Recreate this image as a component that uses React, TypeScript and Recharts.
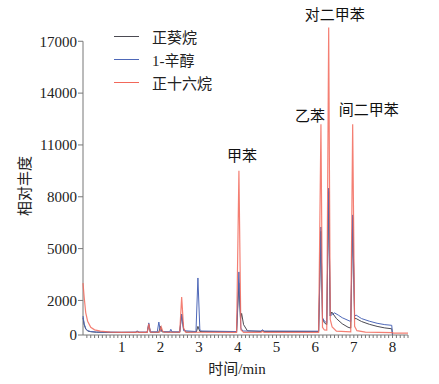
import { LineChart, Line, XAxis, YAxis, ReferenceLine, ReferenceDot } from "recharts"

// retention time (min), relative abundance
const decane: [number, number][] = [
  [0, 1000], [0.03, 600], [0.07, 350], [0.12, 230], [0.2, 190], [0.35, 160], [1.0, 150],
  [1.36, 150], [1.4, 200], [1.44, 150], [1.66, 150], [1.7, 600], [1.74, 160], [1.96, 160],
  [2.0, 500], [2.04, 180], [2.5, 160], [2.55, 1200], [2.6, 350], [2.66, 170], [2.93, 180],
  [2.97, 500], [3.02, 200], [3.97, 180], [4.03, 3000], [4.07, 900], [4.1, 1250], [4.15, 600],
  [4.25, 240], [4.6, 200], [4.64, 260], [4.68, 200], [6.09, 200], [6.15, 6000], [6.19, 950],
  [6.24, 700], [6.3, 600], [6.35, 8300], [6.39, 1100], [6.43, 1330], [6.55, 950], [6.7, 650],
  [6.85, 450], [6.92, 400], [6.97, 6800], [7.02, 950], [7.06, 950], [7.2, 780], [7.4, 620],
  [7.6, 500], [7.8, 410], [7.98, 360], [8.0, 0],
]

const octanol: [number, number][] = [
  [0, 1100], [0.03, 650], [0.07, 380], [0.12, 250], [0.2, 200], [0.35, 170], [1.0, 160],
  [1.35, 170], [1.4, 230], [1.45, 170], [1.66, 170], [1.7, 700], [1.74, 180], [1.92, 180],
  [1.96, 750], [2.0, 220], [2.04, 280], [2.08, 180], [2.24, 180], [2.27, 330], [2.3, 180],
  [2.5, 180], [2.55, 1200], [2.6, 250], [2.92, 200], [2.97, 3300], [3.02, 300], [3.07, 230],
  [3.97, 200], [4.03, 3650], [4.08, 400], [4.13, 230], [4.6, 230], [4.64, 300], [4.68, 230],
  [6.09, 220], [6.15, 6250], [6.19, 1000], [6.24, 800], [6.3, 700], [6.35, 8500], [6.39, 1100],
  [6.45, 1200], [6.5, 1280], [6.6, 1150], [6.7, 1000], [6.85, 850], [6.92, 780], [6.97, 6950],
  [7.02, 1100], [7.06, 1150], [7.2, 950], [7.4, 800], [7.6, 680], [7.8, 600], [7.98, 560],
  [8.0, 0],
]

const hexadecane: [number, number][] = [
  [0, 3000], [0.03, 2200], [0.07, 1300], [0.12, 800], [0.2, 450], [0.3, 300], [0.45, 220],
  [0.7, 170], [1.0, 150], [1.36, 150], [1.4, 180], [1.44, 150], [1.66, 150], [1.7, 650],
  [1.74, 160], [1.98, 160], [2.02, 480], [2.06, 220], [2.1, 160], [2.5, 160], [2.55, 2200],
  [2.6, 400], [2.65, 170], [3.97, 150], [4.03, 9500], [4.08, 300], [4.15, 150], [4.6, 150],
  [4.64, 220], [4.68, 150], [6.09, 150], [6.15, 12200], [6.19, 450], [6.24, 290], [6.3, 280],
  [6.35, 17800], [6.39, 900], [6.44, 460], [6.55, 220], [6.92, 180], [6.97, 12200],
  [7.02, 500], [7.08, 250], [7.3, 170], [8.0, 140], [8.02, 110], [8.4, 110],
]

const seriesNames = ["正葵烷", "1-辛醇", "正十六烷"]
const seriesColors = ["#4b4a52", "#4e68b8", "#f2685a"]

const peakNames = ["甲苯", "乙苯", "对二甲苯", "间二甲苯"]
const peakTimes = [4.03, 6.15, 6.35, 6.97]
const peakValues = [9500, 12200, 17800, 12200]
const peakLabelShift = [[3, 10], [-11, 3], [6, 7], [16, 9]]

const yTicks = [0, 2000, 5000, 8000, 11000, 14000, 17000]
const xMajorTicks = [1, 2, 3, 4, 5, 6, 7, 8]
// minor ticks every 0.1 min
const xMinorTicks = Array.from({ length: 84 }, (_, i) => (i + 1) / 10)

const toRows = (pts: [number, number][]) => pts.map(([t, v]) => ({ t, v }))
const allSeries = [decane, octanol, hexadecane].map(toRows)

const latin = "Liberation Serif"
const cjk = "Noto Sans CJK SC"

function XTick(props: any) {
  const { x, y, payload } = props
  const v = Math.round(payload.value * 10) / 10
  if (!xMajorTicks.includes(v)) return null
  return (
    <text x={x} y={y + 12} textAnchor="middle" fontFamily={latin} fontSize={15} fill="#222">
      {v}
    </text>
  )
}

export default function App() {
  return (
    <div style={{ position: "absolute", left: 0, top: 0, width: 439, height: 384, background: "#fff" }}>
      <LineChart width={439} height={384} margin={{ top: 24, right: 31, left: 0, bottom: 0 }}>
        <XAxis
          dataKey="t"
          type="number"
          domain={[0, 8.4]}
          ticks={xMinorTicks}
          interval={0}
          tick={<XTick />}
          tickSize={3}
          height={49}
          stroke="#777"
          allowDuplicatedCategory={false}
        />
        <YAxis
          type="number"
          domain={[0, 18000]}
          ticks={yTicks}
          interval={0}
          width={83}
          tickSize={5}
          tickMargin={1}
          axisLine={false}
          stroke="#777"
          tick={{ fontFamily: latin, fontSize: 15, fill: "#222" }}
        />
        <ReferenceLine segment={[{ x: 0, y: 0 }, { x: 0, y: 17000 }]} stroke="#777" />
        {allSeries.map((rows, i) => (
          <Line
            key={seriesNames[i]}
            data={rows}
            dataKey="v"
            name={seriesNames[i]}
            type="linear"
            stroke={seriesColors[i]}
            strokeWidth={i === 2 ? 1.2 : 1}
            strokeOpacity={i === 2 ? 0.85 : 1}
            dot={false}
            isAnimationActive={false}
          />
        ))}
        {peakNames.map((n, i) => (
          <ReferenceDot
            key={n}
            x={peakTimes[i]}
            y={peakValues[i]}
            r={1}
            fill="none"
            stroke="none"
            label={(p: any) => {
              const vb = p.viewBox
              const cx = vb.x + vb.width / 2
              const cy = vb.y + vb.height / 2
              return (
                <text
                  x={cx + peakLabelShift[i][0]}
                  y={cy - peakLabelShift[i][1]}
                  textAnchor="middle"
                  fontFamily={cjk}
                  fontSize={15}
                  fill="#111"
                >
                  {n}
                </text>
              )
            }}
          />
        ))}
      </LineChart>
      <div style={{ position: "absolute", left: 114, top: 24.5, fontSize: 15, color: "#222" }}>
        {seriesNames.map((n, i) => (
          <div key={n} style={{ display: "flex", alignItems: "center", height: 23 }}>
            <div style={{ width: 25, height: 1, background: seriesColors[i], marginRight: 13 }} />
            <span style={{ fontFamily: `"${latin}", "${cjk}"` }}>{n}</span>
          </div>
        ))}
      </div>
      <div
        style={{
          position: "absolute", left: 237, top: 367, transform: "translate(-50%, -50%)",
          fontSize: 15, color: "#222", whiteSpace: "nowrap",
        }}
      >
        <span style={{ fontFamily: cjk }}>时间</span>
        <span style={{ fontFamily: latin }}>/min</span>
      </div>
      <div
        style={{
          position: "absolute", left: 23, top: 186, transform: "translate(-50%, -50%) rotate(-90deg)",
          fontFamily: cjk, fontSize: 15, color: "#222", whiteSpace: "nowrap",
        }}
      >
        相对丰度
      </div>
    </div>
  )
}
